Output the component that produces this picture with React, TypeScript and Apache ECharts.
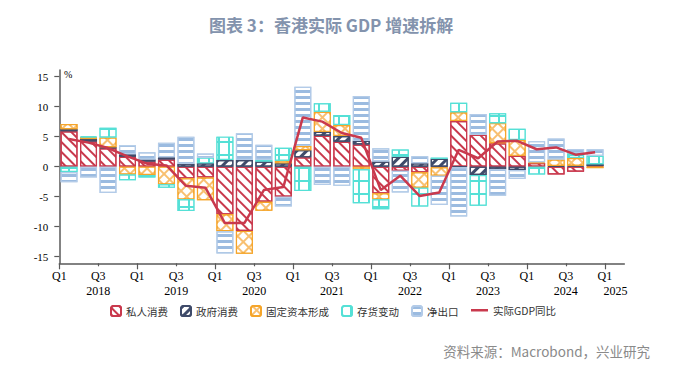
import React, { useEffect, useRef } from 'react';
import * as echarts from 'echarts';

const quarters = [
  '2018Q1', '2018Q2', '2018Q3', '2018Q4',
  '2019Q1', '2019Q2', '2019Q3', '2019Q4',
  '2020Q1', '2020Q2', '2020Q3', '2020Q4',
  '2021Q1', '2021Q2', '2021Q3', '2021Q4',
  '2022Q1', '2022Q2', '2022Q3', '2022Q4',
  '2023Q1', '2023Q2', '2023Q3', '2023Q4',
  '2024Q1', '2024Q2', '2024Q3', '2024Q4',
  '2025Q1',
];
const lastYear = '2025';
const yTicks = [-15, -10, -5, 0, 5, 10, 15];
const q1Ticks = [0, 4, 8, 12, 16, 20, 24, 28];
const q3Ticks = [2, 6, 10, 14, 18, 22, 26];

const privateConsumption = [
  5.9, 4.2, 3.05, 1.65, 0.85, 1.2, -1.95, -1.8,
  -7.95, -10.7, -5.85, -5.0, 1.55, 5.15, 4.15, 3.7,
  -4.45, -0.7, -0.95, -0.1, 7.6, 5.3, 3.9, 1.8,
  0.6, -1.3, -0.85, 0.1,
];
const governmentConsumption = [
  0.35, 0.4, 0.2, 0.4, 0.35, 0.35, 0.5, 0.55,
  1.1, 1.1, 0.85, 0.55, 1.2, 0.65, 0.95, 0.6,
  0.85, 1.65, 0.55, 1.3, -0.1, -1.4, -0.45, -0.55,
  0, 0.1, 0.15, 0.3,
];
const fixedCapital = [
  0.85, 0.3, 1.6, -1.3, -1.4, -2.95, -3.5, -3.8,
  -2.8, -3.8, -1.5, 0.45, 0.7, 3.35, 1.85, -0.45,
  -1.0, 0, -2.55, -1.4, 1.45, 0, 3.35, 2.65,
  0.15, 1.1, 1.3, -0.25,
];
const inventoryChange = [
  -0.9, 0.15, 1.65, -0.95, -0.4, -0.55, -1.95, 0.95,
  3.9, 0, 0.3, 2.15, -4.05, 1.4, 1.65, -5.65,
  -1.65, 1.2, -3.15, 0.2, 1.6, -5.1, 1.65, 1.85,
  -1.3, 0, 0.8, 1.4,
];
const netExports = [
  -1.7, -1.8, -4.4, 1.5, 1.2, 2.45, 4.5, 0.7,
  -3.7, 4.45, 2.5, -1.65, 9.85, -3.05, -3.2, 7.45,
  2.2, -3.6, 1.2, -4.9, -8.2, 3.45, -4.4, -1.5,
  3.5, 3.5, 0.7, 1.1,
];
const realGdpYoY = [
  4.6, 4.0, 3.1, 1.7, 0.5, 0.2, -3.2, -3.5,
  -9.4, -9.4, -3.9, -3.4, 8.2, 7.5, 5.6, 4.8,
  -3.9, -1.5, -4.9, -4.3, 2.8, 1.4, 4.2, 4.3,
  2.9, 3.2, 2.0, 2.4,
];

const RED = '#c9394d';
const NAVY = '#3f4b6a';
const ORANGE = '#f5a52a';
const TEAL = '#55e0d6';
const BLUE = '#9bbbe0';
const SERIF = '"Liberation Serif", "Times New Roman", serif';
const CJK = '"Noto Sans CJK SC", sans-serif';

function barSeries(name: string, data: number[], fill: string, border: string, decal: any) {
  return {
    name,
    type: 'bar',
    stack: 'gdp',
    xAxisIndex: 0,
    yAxisIndex: 0,
    barWidth: 17,
    data: data.map((v) => (v === 0 ? null : v)),
    itemStyle: { color: fill, borderColor: border, borderWidth: 1.2, decal },
  };
}

export default function App() {
  const ref = useRef<HTMLDivElement>(null);
  useEffect(() => {
    const chart = echarts.init(ref.current!, null, { renderer: 'svg' });
    const axisGray = '#5a5a5a';
    const legendText = { fontFamily: CJK, fontSize: 10.5, color: '#333' };
    const option: any = {
      animation: false,
      backgroundColor: '#ffffff',
      title: {
        text: '图表 3：香港实际 GDP 增速拆解',
        left: 204,
        top: 11,
        textStyle: { fontFamily: CJK, fontSize: 17, fontWeight: 'bold', color: '#8393ad' },
      },
      legend: [
        {
          data: ['私人消费', '政府消费', '固定资本形成', '存货变动', '净出口'],
          left: 105,
          top: 300,
          itemWidth: 10,
          itemHeight: 10,
          itemGap: 12,
          textStyle: legendText,
        },
        {
          data: [{ name: '实际GDP同比', icon: 'rect' }],
          left: 466,
          top: 300,
          itemWidth: 17,
          itemHeight: 2.5,
          textStyle: legendText,
        },
      ],
      grid: { left: 59.3, top: 70, width: 565, height: 193.3 },
      xAxis: [
        { type: 'category', data: quarters, show: false, boundaryGap: true },
        {
          type: 'value',
          min: 0,
          max: 29,
          position: 'bottom',
          axisLine: { show: true, lineStyle: { color: axisGray, width: 1.5 } },
          axisTick: { show: true, customValues: q1Ticks, length: 6, lineStyle: { color: axisGray, width: 1.2 } },
          axisLabel: {
            customValues: q1Ticks,
            margin: 5,
            fontFamily: SERIF,
            fontSize: 12,
            lineHeight: 15,
            color: '#000',
            formatter: (v: number) => quarters[v].slice(4),
          },
          splitLine: { show: false },
        },
        {
          type: 'value',
          min: 0,
          max: 29,
          position: 'bottom',
          axisLine: { show: false },
          axisTick: { show: true, customValues: q3Ticks, length: 3, lineStyle: { color: axisGray, width: 1.2 } },
          axisLabel: {
            customValues: [...q3Ticks, 28.55],
            margin: 5,
            fontFamily: SERIF,
            fontSize: 12,
            lineHeight: 15,
            color: '#000',
            formatter: (v: number) =>
              v > 28 ? '\n' + lastYear : quarters[v].slice(4) + '\n' + quarters[v].slice(0, 4),
          },
          splitLine: { show: false },
        },
      ],
      yAxis: {
        type: 'value',
        min: -16.1,
        max: 16.1,
        axisLine: { show: true, lineStyle: { color: axisGray, width: 1.5 } },
        axisTick: { show: true, customValues: yTicks, length: 5, lineStyle: { color: axisGray, width: 1.2 } },
        axisLabel: { customValues: yTicks, margin: 11, fontFamily: SERIF, fontSize: 11, color: '#000' },
        splitLine: { show: false },
      },
      graphic: [
        {
          type: 'text',
          left: 64,
          top: 69,
          style: { text: '%', fontFamily: SERIF, fontSize: 10, fill: '#000' },
        },
        {
          type: 'text',
          right: 25,
          top: 344,
          style: { text: '资料来源：Macrobond，兴业研究', fontFamily: CJK, fontSize: 13.5, fill: '#8a8a8a' },
        },
      ],
      series: [
        barSeries('私人消费', privateConsumption, '#ffffff', RED, {
          symbol: 'rect', symbolSize: 1, color: RED, dashArrayX: [1, 0], dashArrayY: [2, 4.2], rotation: Math.PI / 4,
        }),
        barSeries('政府消费', governmentConsumption, '#ffffff', NAVY, {
          symbol: 'rect', symbolSize: 1, color: NAVY, dashArrayX: [1, 0], dashArrayY: [2.2, 3.2], rotation: -Math.PI / 4,
        }),
        barSeries('固定资本形成', fixedCapital, '#f8c071', ORANGE, {
          symbol: 'rect', symbolSize: 1, color: '#ffffff', dashArrayX: [6, 1.2], dashArrayY: [6, 1.2], rotation: Math.PI / 4,
        }),
        barSeries('存货变动', inventoryChange, TEAL, TEAL, {
          symbol: 'rect', symbolSize: 1, color: '#ffffff', dashArrayX: [7.2, 1.3], dashArrayY: [10.5, 1.3], rotation: 0,
        }),
        barSeries('净出口', netExports, '#ffffff', '#b3cbe8', {
          symbol: 'rect', symbolSize: 1, color: BLUE, dashArrayX: [1, 0], dashArrayY: [2.2, 2.8], rotation: 0,
        }),
        {
          name: '实际GDP同比',
          type: 'line',
          xAxisIndex: 0,
          yAxisIndex: 0,
          data: realGdpYoY,
          symbol: 'none',
          z: 5,
          lineStyle: { color: RED, width: 2.5 },
          itemStyle: { color: RED },
        },
      ],
    };
    chart.setOption(option);
    return () => chart.dispose();
  }, []);
  return <div ref={ref} style={{ position: 'fixed', left: 0, top: 0, width: 675, height: 369 }} />;
}
